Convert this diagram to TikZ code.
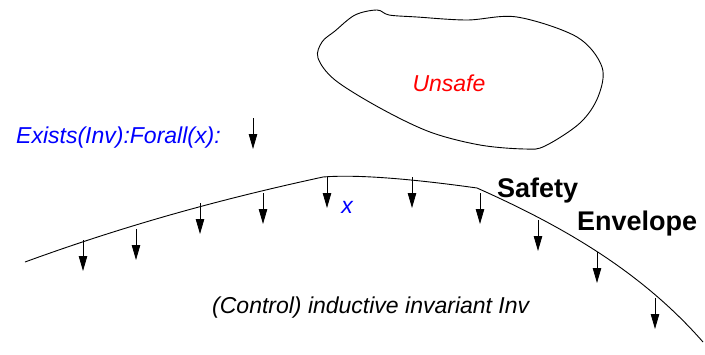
\documentclass[tikz,border=0pt]{standalone}
\usepackage{fontspec}
\setmainfont{Liberation Sans}
\usetikzlibrary{arrows.meta}
\begin{document}
\begin{tikzpicture}[x=1pt,y=-1pt, every node/.style={inner sep=0pt,font=\fontsize{23}{26}\selectfont\itshape},
  drop/.style={line width=0.8pt,-{Triangle[length=15pt,width=8.5pt]}}]
\useasboundingbox (0,0) rectangle (705,354);
\draw[line width=0.9pt] plot[smooth cycle,tension=0.55] coordinates {(377,10) (389,15) (417,17) (467,20) (517,17) (577,37) (602,67) (598,97) (580,123) (545,146) (525,149) (480,145) (430,132) (380,108) (335,80) (318,58) (322,42) (335,31) (355,15)};
\node[red,anchor=base] (unsafe) at (449,91) {Unsafe};
\node[blue,anchor=base west] (exists) at (16,143) {Exists(Inv):Forall(x):};
\draw[line width=0.9pt] (25,262) .. controls (140,220) and (240,195) .. (323,177)
  .. controls (360,174) and (420,180) .. (477,188)
  .. controls (560,225) and (640,270) .. (703,342);
\foreach \x/\y in {83/240,136/229,200/203,263/193,327/177,412/177,480/193,538/220,597/252,655/298,253/118}
  \draw[drop] (\x,\y) -- ++(0,31);
\node[blue,anchor=base] (xlabel) at (347,213) {x};
\node[anchor=base west,font=\fontsize{27}{30}\selectfont\bfseries] (safety) at (497,197) {Safety};
\node[anchor=base west,font=\fontsize{27}{30}\selectfont\bfseries] (envelope) at (577,230) {Envelope};
\node[anchor=base west] (inv) at (212,313) {(Control) inductive invariant Inv};
\end{tikzpicture}
\end{document}
